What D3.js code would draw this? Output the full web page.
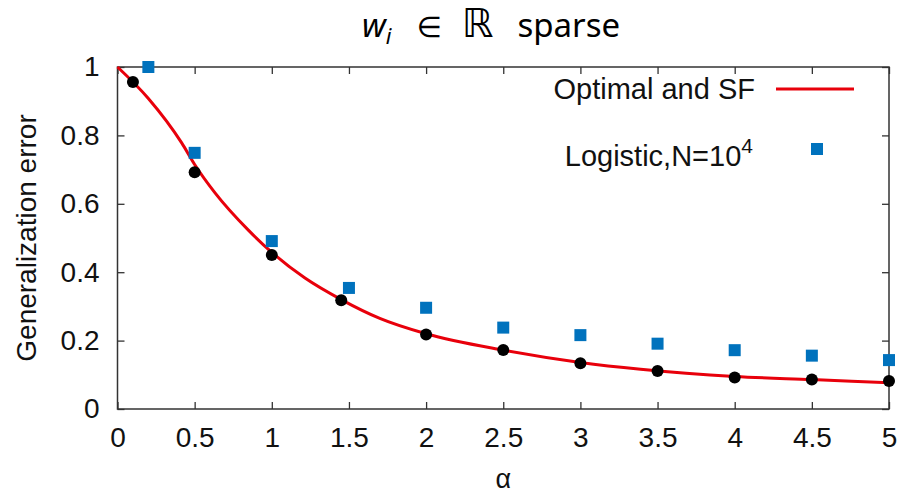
<!DOCTYPE html>
<html>
<head>
<meta charset="utf-8">
<script src="https://cdn.jsdelivr.net/npm/d3@7"></script>
<style>
  body { margin: 0; background: #fff; }
  text { font-family: "Liberation Sans", Arial, sans-serif; }
</style>
</head>
<body>
<svg id="chart" width="901" height="495"></svg>
<script>
// curve (Optimal and SF)
let curveAlpha = [0, 0.2, 0.416, 0.5, 0.632, 0.848, 1.0, 1.215, 1.45, 1.7, 2.0, 2.5, 3.0, 3.39, 4.0, 4.5, 5.0];
let curveErr   = [1.0, 0.908, 0.778, 0.715, 0.632, 0.523, 0.458, 0.383, 0.32, 0.265, 0.22, 0.172, 0.136, 0.116, 0.095, 0.086, 0.077];

// black dots (simulations)
let dotAlpha = [0.1, 0.5, 1, 1.45, 2, 2.5, 3, 3.5, 4, 4.5, 5];
let dotErr   = [0.956, 0.692, 0.450, 0.318, 0.218, 0.1725, 0.134, 0.111, 0.092, 0.086, 0.082];

// blue squares (Logistic, N=10^4)
let logAlpha = [0.2, 0.5, 1, 1.5, 2, 2.5, 3, 3.5, 4, 4.5, 5];
let logErr   = [1.0, 0.749, 0.491, 0.354, 0.296, 0.238, 0.216, 0.191, 0.172, 0.156, 0.143];

let xTicks = [0, 0.5, 1, 1.5, 2, 2.5, 3, 3.5, 4, 4.5, 5];
let yTicks = [0, 0.2, 0.4, 0.6, 0.8, 1];

let svg = d3.select("#chart");
let margin = {top: 67, right: 12, bottom: 86, left: 117.5},
    width = +svg.attr("width") - margin.left - margin.right,
    height = +svg.attr("height") - margin.top - margin.bottom,
    g = svg.append("g").attr("transform", "translate(" + margin.left + "," + margin.top + ")");

let x = d3.scaleLinear().domain([0, 5]).range([0, width]);
let y = d3.scaleLinear().domain([0, 1]).range([height, 0]);

let fmt = d => d === 0 ? "0" : d3.format("")(d);

// axes with inward ticks, mirrored on top/right
let axisStyle = sel => {
    sel.select(".domain").remove();
    sel.selectAll("line").attr("stroke", "#333").attr("stroke-width", 1.3);
    sel.selectAll("text").attr("fill", "#111").style("font-size", "28px");
};

g.append("g")
    .attr("transform", "translate(0," + height + ")")
    .call(d3.axisBottom(x).tickValues(xTicks).tickSize(-7).tickPadding(18).tickFormat(fmt))
    .call(axisStyle);

g.append("g")
    .call(d3.axisTop(x).tickValues(xTicks).tickSize(-7).tickFormat(""))
    .call(axisStyle);

g.append("g")
    .call(d3.axisLeft(y).tickValues(yTicks).tickSize(-7).tickPadding(18).tickFormat(fmt))
    .call(axisStyle);

g.append("g")
    .attr("transform", "translate(" + width + ",0)")
    .call(d3.axisRight(y).tickValues(yTicks).tickSize(-7).tickFormat(""))
    .call(axisStyle);

g.append("rect")
    .attr("width", width)
    .attr("height", height)
    .attr("fill", "none")
    .attr("stroke", "#333")
    .attr("stroke-width", 1.5);

// red curve
let line = d3.line()
    .x(d => x(d[0]))
    .y(d => y(d[1]))
    .curve(d3.curveMonotoneX);

g.append("path")
    .datum(d3.zip(curveAlpha, curveErr))
    .attr("fill", "none")
    .attr("stroke", "#e8000b")
    .attr("stroke-width", 3)
    .attr("d", line);

// blue squares
let sq = 12;
g.selectAll(".sq")
    .data(d3.zip(logAlpha, logErr))
    .enter().append("rect")
    .attr("x", d => x(d[0]) - sq / 2)
    .attr("y", d => y(d[1]) - sq / 2)
    .attr("width", sq)
    .attr("height", sq)
    .attr("fill", "#0072bd");

// black dots
g.selectAll(".dot")
    .data(d3.zip(dotAlpha, dotErr))
    .enter().append("circle")
    .attr("cx", d => x(d[0]))
    .attr("cy", d => y(d[1]))
    .attr("r", 6)
    .attr("fill", "#000");

// legend
let lg = svg.append("g").style("font-size", "29px").attr("fill", "#111");
lg.append("text")
    .attr("x", 755).attr("y", 99)
    .attr("text-anchor", "end")
    .text("Optimal and SF");
lg.append("line")
    .attr("x1", 776).attr("x2", 854)
    .attr("y1", 89).attr("y2", 89)
    .attr("stroke", "#e8000b").attr("stroke-width", 3);

let t2 = lg.append("text")
    .attr("x", 753).attr("y", 166)
    .attr("text-anchor", "end");
t2.append("tspan").text("Logistic,N=10");
t2.append("tspan").attr("dy", -13).style("font-size", "21px").text("4");
lg.append("rect")
    .attr("x", 811).attr("y", 143)
    .attr("width", 12).attr("height", 12)
    .attr("fill", "#0072bd");

// axis titles
svg.append("text")
    .attr("transform", "translate(36," + (margin.top + height / 2) + ") rotate(-90)")
    .attr("text-anchor", "middle")
    .style("font-size", "28px")
    .attr("fill", "#111")
    .text("Generalization error");

svg.append("text")
    .attr("x", margin.left + x(2.5))
    .attr("y", 488)
    .attr("text-anchor", "middle")
    .style("font-size", "27px")
    .attr("fill", "#111")
    .text("α");

// title
let title = svg.append("text")
    .attr("x", 362).attr("y", 37)
    .style("font-family", "'Noto Sans', sans-serif")
    .style("font-size", "33px")
    .attr("fill", "#000");
title.append("tspan").style("font-style", "italic").text("w");
title.append("tspan").attr("dy", 7).style("font-style", "italic").style("font-size", "22px").text("i");
title.append("tspan").attr("dy", -7).attr("dx", 25).style("font-family", "'DejaVu Sans', sans-serif").style("font-size", "29px").text("∈");
title.append("tspan").attr("dx", 20).style("font-family", "'DejaVu Sans', serif").style("font-size", "40px").text("ℝ");
title.append("tspan").attr("dx", 24).text("sparse");
</script>
</body>
</html>
